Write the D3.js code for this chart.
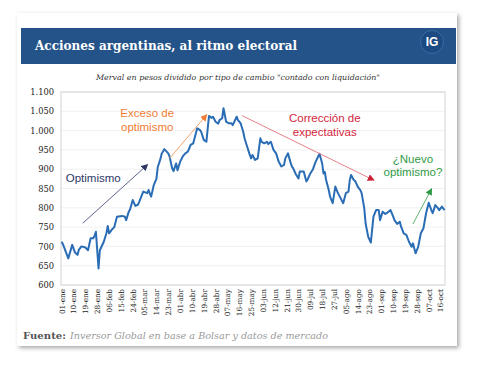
<!DOCTYPE html>
<html>
<head>
<meta charset="utf-8">
<script src="https://cdn.jsdelivr.net/npm/d3@7"></script>
<style>
  body { margin: 0; background: #fff; }
</style>
</head>
<body>
<div id="chart"></div>
<script>
// Merval en pesos / CCL
var dates = ["2015-01-01","2015-01-02","2015-01-06","2015-01-09","2015-01-11","2015-01-13","2015-01-14","2015-01-16","2015-01-19","2015-01-21",
  "2015-01-23","2015-01-25","2015-01-26","2015-01-27","2015-01-29","2015-01-30","2015-02-02","2015-02-04","2015-02-05","2015-02-06",
  "2015-02-08","2015-02-10","2015-02-12","2015-02-16","2015-02-18","2015-02-19","2015-02-21","2015-02-22","2015-02-24","2015-02-26",
  "2015-02-28","2015-03-01","2015-03-04","2015-03-07","2015-03-08","2015-03-10","2015-03-12","2015-03-14","2015-03-15","2015-03-17",
  "2015-03-18","2015-03-20","2015-03-23","2015-03-24","2015-03-26","2015-03-27","2015-03-29","2015-03-30","2015-04-01","2015-04-03",
  "2015-04-05","2015-04-07","2015-04-09","2015-04-11","2015-04-12","2015-04-14","2015-04-16","2015-04-17","2015-04-19","2015-04-21",
  "2015-04-22","2015-04-23","2015-04-25","2015-04-26","2015-04-28","2015-04-30","2015-05-01","2015-05-03","2015-05-04","2015-05-06",
  "2015-05-08","2015-05-10","2015-05-11","2015-05-14","2015-05-15","2015-05-17","2015-05-19","2015-05-20","2015-05-22","2015-05-24",
  "2015-05-25","2015-05-26","2015-05-28","2015-05-30","2015-06-01","2015-06-02","2015-06-04","2015-06-06","2015-06-07","2015-06-09",
  "2015-06-11","2015-06-13","2015-06-15","2015-06-17","2015-06-19","2015-06-20","2015-06-22","2015-06-24","2015-06-25","2015-06-26",
  "2015-06-28","2015-06-30","2015-07-01","2015-07-02","2015-07-04","2015-07-06","2015-07-07","2015-07-09","2015-07-11","2015-07-13",
  "2015-07-16","2015-07-18","2015-07-19","2015-07-20","2015-07-21","2015-07-23","2015-07-24","2015-07-26","2015-07-28","2015-07-30",
  "2015-08-01","2015-08-03","2015-08-05","2015-08-07","2015-08-08","2015-08-09","2015-08-11","2015-08-12","2015-08-14","2015-08-16",
  "2015-08-17","2015-08-19","2015-08-20","2015-08-22","2015-08-24","2015-08-26","2015-08-28","2015-08-30","2015-08-31","2015-09-02",
  "2015-09-04","2015-09-05","2015-09-08","2015-09-10","2015-09-11","2015-09-13","2015-09-15","2015-09-16","2015-09-18","2015-09-20",
  "2015-09-22","2015-09-24","2015-09-25","2015-09-27","2015-09-29","2015-10-01","2015-10-03","2015-10-05","2015-10-07","2015-10-09",
  "2015-10-10","2015-10-12","2015-10-14","2015-10-15","2015-10-17","2015-10-19"];

var values = [712,705,669,704,685,678,691,700,697,690,
  721,721,728,738,643,690,712,734,753,734,
  743,750,777,779,777,768,790,796,820,805,
  808,816,842,838,846,829,859,875,905,926,
  940,952,941,933,902,895,915,897,919,933,
  941,946,963,967,980,1006,1002,997,976,971,
  1006,1038,1033,1036,1023,1018,1027,1032,1058,1023,
  1019,1019,1014,1036,1027,1019,997,980,958,937,
  928,937,924,928,980,971,967,971,965,971,
  950,941,919,907,911,928,941,917,907,902,
  887,876,894,894,894,868,874,889,900,919,
  940,915,889,893,872,846,829,812,855,838,
  825,812,838,842,872,885,872,870,855,846,
  838,799,760,725,710,777,794,794,768,790,
  784,786,794,777,768,758,764,751,734,730,
  712,699,708,682,699,734,747,786,813,794,
  786,807,799,794,803,794];

var yTicks = [600,650,700,750,800,850,900,950,1000,1050,1100];
var xTickLabels = ["01-ene","10-ene","19-ene","28-ene","06-feb","15-feb","24-feb","05-mar","14-mar","23-mar",
  "01-abr","10-abr","19-abr","28-abr","07-may","16-may","25-may","03-jun","12-jun","21-jun","30-jun",
  "09-jul","18-jul","27-jul","05-ago","14-ago","23-ago","01-sep","10-sep","19-sep","28-sep","07-oct","16-oct"];
var monthAbbr = ["ene","feb","mar","abr","may","jun","jul","ago","sep","oct","nov","dic"];

// annotations: [text lines, colour, centre date, values per line]
var notes = [
  {lines: ["Optimismo"], color: "#2d3766", date: "2015-01-25", vals: [877]},
  {lines: ["Exceso de", "optimismo"], color: "#f07d33", date: "2015-03-07", vals: [1045, 1010]},
  {lines: ["Corrección de", "expectativas"], color: "#d3263d", date: "2015-07-20", vals: [1032, 997]},
  {lines: ["¿Nuevo", "optimismo?"], color: "#2f9a45", date: "2015-09-25", vals: [926, 894]}
];
var arrows = [
  {from: ["2015-01-17", 760], to: ["2015-03-07", 911], line: "#5b6390", head: "#2d3766"},
  {from: ["2015-03-24", 928], to: ["2015-04-21", 1040], line: "#f5a26b", head: "#f07d33"},
  {from: ["2015-05-18", 1039], to: ["2015-08-26", 872], line: "#e8808b", head: "#cf1f36"},
  {from: ["2015-09-25", 758], to: ["2015-10-09", 848], line: "#5fb26b", head: "#2f9a45"}
];

var width = 478, height = 368;
var parse = d3.timeParse("%Y-%m-%d");
var data = dates.map(function (d, i) { return {date: parse(d), value: values[i]}; });

var plot = {left: 61, right: 445, top: 92, bottom: 285};

var svg = d3.select("#chart").append("svg")
  .attr("width", width)
  .attr("height", height)
  .style("font-family", "'DejaVu Serif', serif");

var defs = svg.append("defs");
var shadow = defs.append("filter").attr("id", "shadow")
  .attr("x", "-5%").attr("y", "-5%").attr("width", "110%").attr("height", "110%");
shadow.append("feDropShadow")
  .attr("dx", 2).attr("dy", 2).attr("stdDeviation", 2)
  .attr("flood-color", "#000").attr("flood-opacity", 0.35);

arrows.forEach(function (a, i) {
  defs.append("marker")
    .attr("id", "head" + i)
    .attr("viewBox", "0 0 10 10")
    .attr("refX", 8).attr("refY", 5)
    .attr("markerWidth", 7).attr("markerHeight", 7)
    .attr("markerUnits", "userSpaceOnUse")
    .attr("orient", "auto")
    .append("path")
    .attr("d", "M0,0L10,5L0,10z")
    .attr("fill", a.head);
});

//card
svg.append("rect")
  .attr("x", 17).attr("y", 13)
  .attr("width", 440).attr("height", 333)
  .attr("fill", "#fff")
  .attr("filter", "url(#shadow)");

//header band
svg.append("rect")
  .attr("x", 21).attr("y", 28)
  .attr("width", 435).attr("height", 36)
  .attr("fill", "#245389");

svg.append("text")
  .attr("x", 35).attr("y", 45)
  .attr("dy", "0.35em")
  .attr("fill", "#fff")
  .style("font-size", "13px")
  .style("font-weight", "bold")
  .attr("textLength", 262)
  .attr("lengthAdjust", "spacingAndGlyphs")
  .text("Acciones argentinas, al ritmo electoral");

svg.append("circle")
  .attr("cx", 432).attr("cy", 42).attr("r", 11.5)
  .attr("fill", "#1c4a82")
  .attr("stroke", "#3a6aa6")
  .attr("stroke-width", 1);
svg.append("text")
  .attr("x", 432).attr("y", 42)
  .attr("dy", "0.36em")
  .attr("text-anchor", "middle")
  .attr("fill", "#fff")
  .style("font-family", "'Liberation Sans', Arial, sans-serif")
  .style("font-weight", "bold")
  .style("font-size", "12px")
  .text("IG");

//subtitle
svg.append("text")
  .attr("x", 238).attr("y", 77)
  .attr("dy", "0.35em")
  .attr("text-anchor", "middle")
  .attr("fill", "#333")
  .style("font-size", "7.5px")
  .style("font-style", "italic")
  .attr("textLength", 284)
  .attr("lengthAdjust", "spacingAndGlyphs")
  .text("Merval en pesos dividido por tipo de cambio \"contado con liquidación\"");

//scales
var x = d3.scaleTime()
  .domain([parse("2015-01-01"), parse("2015-10-19")])
  .range([61.7, 444.5]);
var y = d3.scaleLinear()
  .domain([600, 1100])
  .range([plot.bottom, plot.top]);

//grid
svg.append("g")
  .selectAll("line")
  .data(yTicks)
  .join("line")
  .attr("x1", plot.left).attr("x2", plot.right)
  .attr("y1", function (d) { return y(d); })
  .attr("y2", function (d) { return y(d); })
  .attr("stroke", "#ececec")
  .attr("stroke-width", 0.8);

svg.append("rect")
  .attr("x", plot.left).attr("y", plot.top)
  .attr("width", plot.right - plot.left)
  .attr("height", plot.bottom - plot.top)
  .attr("fill", "none")
  .attr("stroke", "#d4d4d4")
  .attr("stroke-width", 1);

//axes
var esLocale = d3.formatLocale({decimal: ",", thousands: ".", grouping: [3], currency: ["$", ""]});
var yAxis = d3.axisLeft(y)
  .tickValues(yTicks)
  .tickSize(0)
  .tickPadding(7)
  .tickFormat(esLocale.format(",d"));
var gy = svg.append("g")
  .attr("transform", "translate(" + plot.left + ",0)")
  .call(yAxis);
gy.select(".domain").remove();
gy.selectAll("text")
  .style("font-family", "'DejaVu Serif', serif")
  .style("font-size", "8.3px")
  .attr("fill", "#222");

function parseTick(s) {
  var p = s.split("-");
  return new Date(2015, monthAbbr.indexOf(p[1]), +p[0]);
}
var xTickDates = xTickLabels.map(parseTick);

var xAxis = d3.axisBottom(x)
  .tickValues(xTickDates)
  .tickSize(0)
  .tickFormat(function (d, i) { return xTickLabels[i]; });
var gx = svg.append("g")
  .attr("transform", "translate(0," + plot.bottom + ")")
  .call(xAxis);
gx.select(".domain").remove();
gx.selectAll("text")
  .attr("transform", "rotate(-90)")
  .attr("x", -4)
  .attr("y", 0)
  .attr("dy", "0.33em")
  .style("text-anchor", "end")
  .style("font-family", "'DejaVu Serif', serif")
  .style("font-size", "7.3px")
  .attr("fill", "#222");

//line
var line = d3.line()
  .x(function (d) { return x(d.date); })
  .y(function (d) { return y(d.value); });

svg.append("path")
  .datum(data)
  .attr("d", line)
  .attr("fill", "none")
  .attr("stroke", "#2a6db5")
  .attr("stroke-width", 2)
  .attr("stroke-linejoin", "round");

//arrows
arrows.forEach(function (a, i) {
  svg.append("line")
    .attr("x1", x(parse(a.from[0]))).attr("y1", y(a.from[1]))
    .attr("x2", x(parse(a.to[0]))).attr("y2", y(a.to[1]))
    .attr("stroke", a.line)
    .attr("stroke-width", 1)
    .attr("marker-end", "url(#head" + i + ")");
});

//notes
notes.forEach(function (n) {
  var t = svg.append("text")
    .attr("text-anchor", "middle")
    .attr("fill", n.color)
    .style("font-family", "'Liberation Sans', Arial, sans-serif")
    .style("font-size", "11.5px");
  n.lines.forEach(function (l, i) {
    t.append("tspan")
      .attr("x", x(parse(n.date)))
      .attr("y", y(n.vals[i]))
      .attr("dy", "0.35em")
      .text(l);
  });
});

//source
svg.append("text")
  .attr("x", 23).attr("y", 336)
  .attr("dy", "0.35em")
  .attr("fill", "#555")
  .style("font-size", "9.5px")
  .style("font-weight", "bold")
  .attr("textLength", 43)
  .attr("lengthAdjust", "spacingAndGlyphs")
  .text("Fuente:");
svg.append("text")
  .attr("x", 70).attr("y", 336)
  .attr("dy", "0.35em")
  .attr("fill", "#9a9a9a")
  .style("font-size", "9.5px")
  .style("font-style", "italic")
  .attr("textLength", 258)
  .attr("lengthAdjust", "spacingAndGlyphs")
  .text("Inversor Global en base a Bolsar y datos de mercado");
</script>
</body>
</html>
